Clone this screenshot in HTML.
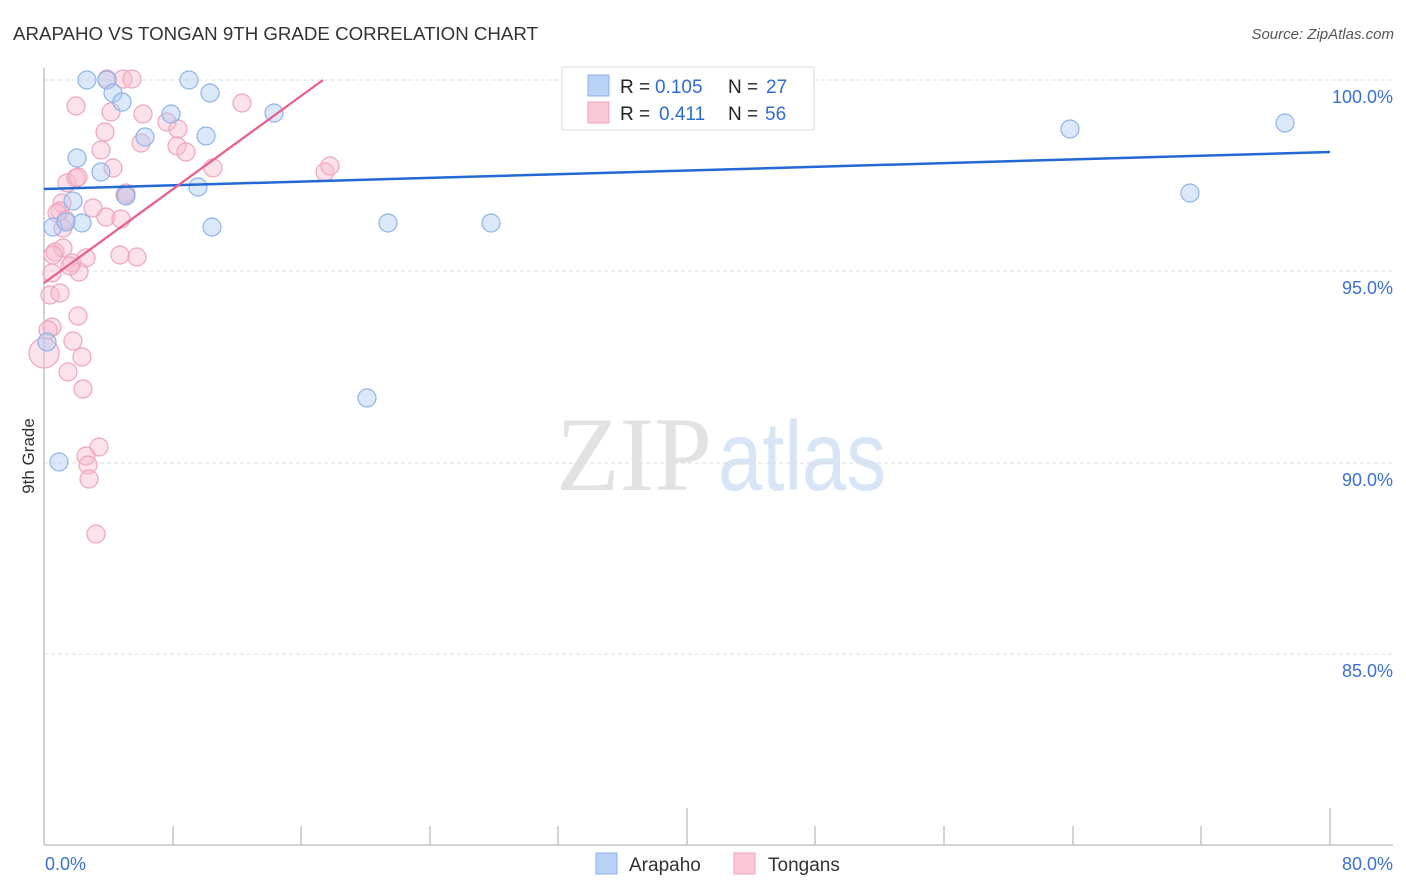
<!DOCTYPE html>
<html><head><meta charset="utf-8"><style>
html,body{margin:0;padding:0;background:#fff;}
svg{display:block;font-family:"Liberation Sans",sans-serif;}
</style></head><body>
<svg width="1406" height="892" viewBox="0 0 1406 892" xmlns="http://www.w3.org/2000/svg">
<rect width="1406" height="892" fill="#fff"/>
<text x="13" y="40" font-size="18" fill="#333" textLength="525" lengthAdjust="spacingAndGlyphs">ARAPAHO VS TONGAN 9TH GRADE CORRELATION CHART</text>
<text x="1394" y="39" font-size="15" fill="#555" font-style="italic" text-anchor="end">Source: ZipAtlas.com</text>

<!-- watermark -->
<text x="556" y="490" font-family="Liberation Serif,serif" font-size="106" fill="#e2e2e2" textLength="156" lengthAdjust="spacingAndGlyphs">ZIP</text>
<text x="718" y="490" font-size="98" fill="#d8e5f6" textLength="168" lengthAdjust="spacingAndGlyphs">atlas</text>

<!-- gridlines -->
<g stroke="#dcdcdc" stroke-width="1" stroke-dasharray="4,3">
<line x1="44" y1="80" x2="1393" y2="80"/>
<line x1="44" y1="271" x2="1393" y2="271"/>
<line x1="44" y1="463" x2="1393" y2="463"/>
<line x1="44" y1="654" x2="1393" y2="654"/>
</g>
<!-- axes -->
<g stroke="#bbb" stroke-width="1.3">
<line x1="44" y1="68" x2="44" y2="845"/>
<line x1="44" y1="845" x2="1393" y2="845"/>
<line x1="173" y1="826" x2="173" y2="845"/>
<line x1="301" y1="826" x2="301" y2="845"/>
<line x1="430" y1="826" x2="430" y2="845"/>
<line x1="558" y1="826" x2="558" y2="845"/>
<line x1="687" y1="808" x2="687" y2="845"/>
<line x1="815" y1="826" x2="815" y2="845"/>
<line x1="944" y1="826" x2="944" y2="845"/>
<line x1="1073" y1="826" x2="1073" y2="845"/>
<line x1="1201" y1="826" x2="1201" y2="845"/>
<line x1="1330" y1="808" x2="1330" y2="845"/>
</g>
<g font-size="18" fill="#3b6fd2" text-anchor="end">
<text x="1393" y="103">100.0%</text>
<text x="1393" y="294">95.0%</text>
<text x="1393" y="486">90.0%</text>
<text x="1393" y="677">85.0%</text>
<text x="1393" y="870">80.0%</text>
</g>
<text x="45" y="870" font-size="18" fill="#3b6fd2">0.0%</text>
<text transform="translate(34,456) rotate(-90)" font-size="17" fill="#333" text-anchor="middle">9th Grade</text>

<!-- pink points -->
<g fill="#f7bccf" fill-opacity="0.45" stroke="#f0a3bc" stroke-width="1.2">
<circle cx="107" cy="79" r="9"/><circle cx="123" cy="79" r="9"/><circle cx="132" cy="79" r="9"/>
<circle cx="76" cy="106" r="9"/><circle cx="242" cy="103" r="9"/><circle cx="111" cy="112" r="9"/>
<circle cx="143" cy="114" r="9"/><circle cx="167" cy="122" r="9"/><circle cx="178" cy="129" r="9"/>
<circle cx="105" cy="132" r="9"/><circle cx="141" cy="143" r="9"/><circle cx="101" cy="150" r="9"/>
<circle cx="177" cy="146" r="9"/><circle cx="186" cy="152" r="9"/><circle cx="113" cy="168" r="9"/>
<circle cx="213" cy="168" r="9"/><circle cx="325" cy="172" r="9"/><circle cx="330" cy="166" r="9"/>
<circle cx="67" cy="183" r="9"/><circle cx="76" cy="178" r="9"/><circle cx="78" cy="177" r="9"/>
<circle cx="126" cy="193" r="9"/><circle cx="62" cy="203" r="9"/><circle cx="60" cy="211" r="9"/>
<circle cx="93" cy="208" r="9"/><circle cx="106" cy="217" r="9"/><circle cx="121" cy="219" r="9"/>
<circle cx="63" cy="228" r="9"/><circle cx="57" cy="213" r="9"/><circle cx="55" cy="252" r="9"/>
<circle cx="63" cy="248" r="9"/><circle cx="53" cy="255" r="9"/><circle cx="72" cy="263" r="9"/>
<circle cx="86" cy="258" r="9"/><circle cx="79" cy="272" r="9"/><circle cx="52" cy="273" r="9"/>
<circle cx="120" cy="255" r="9"/><circle cx="137" cy="257" r="9"/><circle cx="70" cy="266" r="9"/>
<circle cx="50" cy="295" r="9"/><circle cx="60" cy="293" r="9"/><circle cx="78" cy="316" r="9"/>
<circle cx="52" cy="327" r="9"/><circle cx="48" cy="330" r="9"/><circle cx="44" cy="353" r="15"/>
<circle cx="73" cy="341" r="9"/><circle cx="82" cy="357" r="9"/><circle cx="68" cy="372" r="9"/>
<circle cx="83" cy="389" r="9"/><circle cx="99" cy="447" r="9"/><circle cx="86" cy="456" r="9"/>
<circle cx="88" cy="465" r="9"/><circle cx="89" cy="479" r="9"/><circle cx="96" cy="534" r="9"/>
<circle cx="66" cy="220" r="9"/><circle cx="125" cy="195" r="9"/>
</g>
<!-- blue points -->
<g fill="#b0cdf2" fill-opacity="0.45" stroke="#8db3ea" stroke-width="1.2">
<circle cx="87" cy="80" r="9"/><circle cx="107" cy="80" r="9"/><circle cx="189" cy="80" r="9"/>
<circle cx="113" cy="93" r="9"/><circle cx="210" cy="93" r="9"/><circle cx="122" cy="102" r="9"/>
<circle cx="171" cy="114" r="9"/><circle cx="274" cy="113" r="9"/><circle cx="145" cy="137" r="9"/>
<circle cx="206" cy="136" r="9"/><circle cx="77" cy="158" r="9"/><circle cx="101" cy="172" r="9"/>
<circle cx="198" cy="187" r="9"/><circle cx="126" cy="196" r="9"/><circle cx="73" cy="201" r="9"/>
<circle cx="82" cy="223" r="9"/><circle cx="53" cy="227" r="9"/><circle cx="66" cy="222" r="9"/>
<circle cx="212" cy="227" r="9"/><circle cx="388" cy="223" r="9"/><circle cx="491" cy="223" r="9"/>
<circle cx="367" cy="398" r="9"/><circle cx="59" cy="462" r="9"/><circle cx="1070" cy="129" r="9"/>
<circle cx="1285" cy="123" r="9"/><circle cx="1190" cy="193" r="9"/><circle cx="47" cy="342" r="9"/>
</g>
<!-- trend lines -->
<line x1="44" y1="189" x2="1330" y2="152" stroke="#2269d3" stroke-width="2.5"/>
<line x1="44" y1="283" x2="323" y2="80" stroke="#e8608c" stroke-width="2.3"/>

<!-- top legend -->
<rect x="562" y="67" width="252" height="63" fill="#fff" stroke="#ddd" stroke-width="1"/>
<rect x="588" y="75" width="21" height="21" fill="#b8d3f5" stroke="#8db3ea" stroke-width="1"/>
<rect x="588" y="102" width="21" height="21" fill="#fbc8d8" stroke="#f0a3bc" stroke-width="1"/>
<g font-size="19">
<text x="620" y="93" fill="#222">R = </text><text x="655" y="93" fill="#2f6bd0">0.105</text>
<text x="728" y="93" fill="#222">N = </text><text x="766" y="93" fill="#2f6bd0">27</text>
<text x="620" y="120" fill="#222">R = </text><text x="659" y="120" fill="#2f6bd0">0.411</text>
<text x="728" y="120" fill="#222">N = </text><text x="765" y="120" fill="#2f6bd0">56</text>
</g>

<!-- bottom legend -->
<rect x="596" y="853" width="21" height="21" fill="#b8d3f5" stroke="#8db3ea" stroke-width="1"/>
<text x="629" y="871" font-size="19" fill="#333">Arapaho</text>
<rect x="734" y="853" width="21" height="21" fill="#fbc8d8" stroke="#f0a3bc" stroke-width="1"/>
<text x="768" y="871" font-size="19" fill="#333">Tongans</text>
</svg>
</body></html>
